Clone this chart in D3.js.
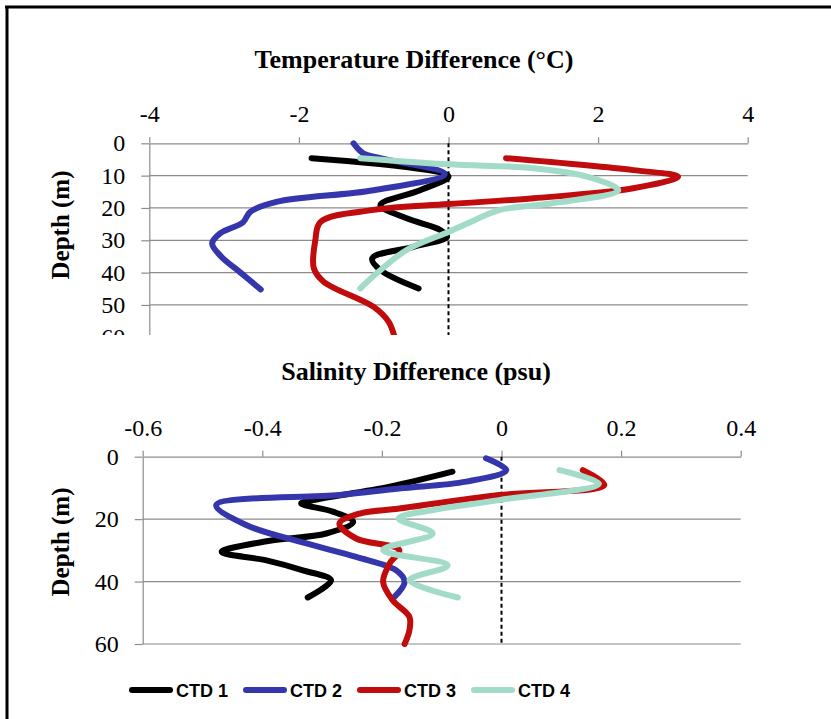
<!DOCTYPE html>
<html>
<head>
<meta charset="utf-8">
<script src="https://cdn.jsdelivr.net/npm/d3@7"></script>
<style>
  body { margin: 0; background: #fff; }
</style>
</head>
<body>
<div id="chart"></div>
<script>
"use strict"

const series = ["CTD 1", "CTD 2", "CTD 3", "CTD 4"];
const colors = ["#000000", "#3636ac", "#c00c0c", "#a2dcc8"];

const tempTicks = [-4, -2, 0, 2, 4];
const tempDepthTicks = [0, 10, 20, 30, 40, 50, 60];
const salTicks = [-0.6, -0.4, -0.2, 0, 0.2, 0.4];
const salDepthTicks = [0, 20, 40, 60];

// [depth (m), temperature difference (°C)]
const ctd1Temp = [[4.6,-1.83],[10.2,0],[14.5,-0.38],[19.1,-0.91],[23.2,-0.56],[26.8,-0.11],[28.9,-0.02],[32,-0.47],[35.6,-1.02],[39.2,-0.91],[44.9,-0.4]];
const ctd2Temp = [[0,-1.27],[3.1,-1.14],[4.6,-0.91],[9.5,-0.05],[14.5,-1.0],[18.1,-2.3],[21.2,-2.65],[24.5,-2.75],[27.8,-3.05],[31,-3.16],[35,-3.04],[40,-2.78],[45.2,-2.51]];
const ctd3Temp = [[4.6,0.77],[8.3,2.47],[10.3,3.07],[13.9,2.47],[17,1.14],[18.8,0],[20.6,-1.0],[24.3,-1.71],[29.9,-1.78],[38.7,-1.8],[42.8,-1.67],[50.6,-1.0],[55.2,-0.8],[60,-0.72]];
const ctd4Temp = [[4.6,-1.18],[6.5,0],[7.7,1.14],[10.3,1.85],[14.5,2.27],[18.6,1.36],[20.6,0.69],[24.8,0.25],[27.4,0],[33,-0.56],[40.2,-0.96],[44.9,-1.18]];

// [depth (m), salinity difference (psu)]
const ctd1Sal = [[4.8,-0.082],[9.6,-0.187],[13.9,-0.315],[15,-0.335],[17.6,-0.282],[20.9,-0.248],[24.6,-0.293],[27,-0.39],[30.5,-0.468],[33.2,-0.393],[36.4,-0.332],[39.6,-0.285],[45.1,-0.324]];
const ctd2Sal = [[0.5,-0.026],[4.3,0.008],[8,-0.059],[10.2,-0.171],[12.3,-0.271],[15.5,-0.477],[21.9,-0.427],[27.8,-0.326],[32.1,-0.243],[36.4,-0.176],[40.1,-0.162],[44.9,-0.179]];
const ctd3Sal = [[4.3,0.136],[9.1,0.172],[12.3,-0.004],[16.6,-0.171],[18.2,-0.237],[21.4,-0.271],[26.2,-0.243],[29.9,-0.171],[34.2,-0.187],[40.1,-0.198],[46,-0.182],[51.3,-0.154],[55.6,-0.154],[60,-0.162]];
const ctd4Sal = [[4.3,0.097],[8.6,0.163],[13.9,-0.004],[17.1,-0.115],[19.8,-0.172],[24.6,-0.115],[29.9,-0.198],[34.8,-0.09],[39.6,-0.154],[45.1,-0.073]];

const width = 831, height = 719;

const svg = d3.select("#chart")
  .append("svg")
    .attr("width", width)
    .attr("height", height)
    .style("font-family", "'Liberation Serif', 'Times New Roman', serif");

// frame (only top and left edges show)
svg.append("path")
  .attr("d", "M5,7H831M7,7V719")
  .attr("stroke", "#000")
  .attr("stroke-width", 3)
  .attr("fill", "none");

svg.append("defs").append("clipPath")
  .attr("id", "topclip")
  .append("rect")
    .attr("x", 0).attr("y", 0)
    .attr("width", width).attr("height", 335);

function panel(g, opts) {
  const x = d3.scaleLinear().domain(opts.xDomain).range([opts.left, opts.right]);
  const y = d3.scaleLinear().domain([0, 60]).range([opts.top, opts.bottom]);

  // grid
  g.append("g")
    .selectAll("line")
    .data(opts.yTicks.filter(d => d > 0))
    .join("line")
      .attr("x1", opts.left).attr("x2", opts.right)
      .attr("y1", d => y(d)).attr("y2", d => y(d))
      .attr("stroke", "#8c8c8c")
      .attr("stroke-width", 1.2);

  const xAxis = g.append("g")
    .attr("transform", "translate(0," + opts.top + ")")
    .call(d3.axisTop(x).tickValues(opts.xTicks).tickSize(6).tickSizeOuter(0)
      .tickPadding(15).tickFormat(d => String(d)));

  const yAxis = g.append("g")
    .attr("transform", "translate(" + opts.left + ",0)")
    .call(d3.axisLeft(y).tickValues(opts.yTicks).tickSize(8).tickSizeOuter(0)
      .tickPadding(16).tickFormat(d => String(d)));

  [xAxis, yAxis].forEach(a => {
    a.select(".domain").attr("stroke", "#8c8c8c").attr("stroke-width", 1.2);
    a.selectAll(".tick line").attr("stroke", "#8c8c8c").attr("stroke-width", 1.2);
    a.selectAll("text")
      .attr("fill", "#000")
      .style("font-family", "'Liberation Serif', 'Times New Roman', serif")
      .style("font-size", "24px");
  });

  // zero line
  g.append("line")
    .attr("x1", x(0)).attr("x2", x(0))
    .attr("y1", y(0)).attr("y2", y(60))
    .attr("stroke", "#000")
    .attr("stroke-width", 2)
    .attr("stroke-dasharray", "4,3");

  const line = d3.line()
    .x(d => x(d[1]))
    .y(d => y(d[0]))
    .curve(d3.curveCatmullRom.alpha(0.5));

  g.append("g")
    .selectAll("path")
    .data(opts.data)
    .join("path")
      .attr("d", line)
      .attr("fill", "none")
      .attr("stroke", (d, i) => colors[i])
      .attr("stroke-width", 6)
      .attr("stroke-linecap", "round")
      .attr("stroke-linejoin", "round");

  // titles
  svg.append("text")
    .attr("x", opts.titleX)
    .attr("y", opts.titleY)
    .attr("text-anchor", "middle")
    .style("font-weight", "bold")
    .style("font-size", "26px")
    .text(opts.title);

  svg.append("text")
    .attr("transform", "translate(69," + opts.labelY + ") rotate(-90)")
    .attr("text-anchor", "middle")
    .style("font-weight", "bold")
    .style("font-size", "25px")
    .text("Depth (m)");
}

panel(svg.append("g").attr("clip-path", "url(#topclip)"), {
  xDomain: [-4, 4], left: 149.3, right: 747.7, top: 143.3, bottom: 337.3,
  xTicks: tempTicks, yTicks: tempDepthTicks,
  data: [ctd1Temp, ctd2Temp, ctd3Temp, ctd4Temp],
  title: "Temperature Difference (°C)", titleX: 414, titleY: 68,
  labelY: 225
});

panel(svg.append("g"), {
  xDomain: [-0.6, 0.4], left: 142.7, right: 740.7, top: 456.7, bottom: 644,
  xTicks: salTicks, yTicks: salDepthTicks,
  data: [ctd1Sal, ctd2Sal, ctd3Sal, ctd4Sal],
  title: "Salinity Difference (psu)", titleX: 416, titleY: 380,
  labelY: 542
});

// legend
const legend = svg.append("g")
  .selectAll("g")
  .data(series)
  .join("g")
    .attr("transform", (d, i) => "translate(" + (132 + i * 114) + ",690)");

legend.append("line")
  .attr("x1", 0).attr("x2", 38)
  .attr("stroke", (d, i) => colors[i])
  .attr("stroke-width", 6)
  .attr("stroke-linecap", "round");

legend.append("text")
  .attr("x", 44)
  .attr("y", 7)
  .style("font-family", "'Liberation Sans', Arial, sans-serif")
  .style("font-weight", "bold")
  .style("font-size", "18px")
  .text(d => d);
</script>
</body>
</html>
